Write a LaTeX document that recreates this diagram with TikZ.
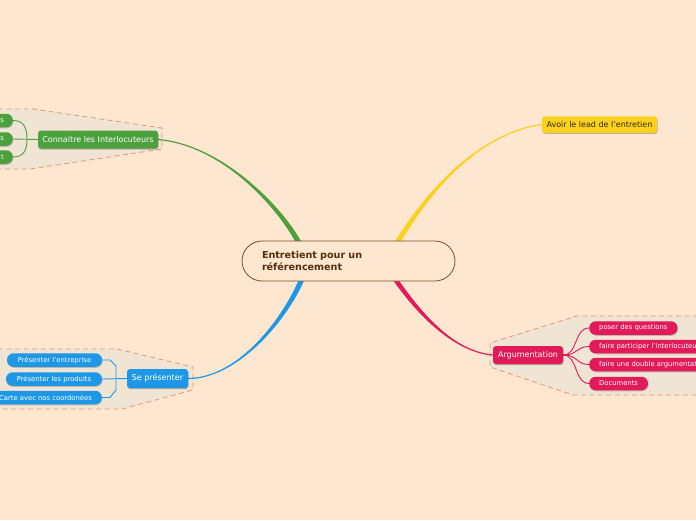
\documentclass[tikz,border=0pt]{standalone}
\usepackage{fontspec}
\setmainfont{DejaVu Sans}
\usetikzlibrary{shadows,calc}
\definecolor{bgc}{RGB}{253,231,208}
\definecolor{grpfill}{RGB}{240,228,212}
\definecolor{grpline}{RGB}{233,150,110}
\definecolor{cborder}{RGB}{120,80,40}
\definecolor{ctext}{RGB}{85,45,10}
\definecolor{cgreen}{RGB}{76,160,62}
\definecolor{cblue}{RGB}{30,152,230}
\definecolor{cred}{RGB}{226,26,90}
\definecolor{cyellow}{RGB}{250,210,30}
\definecolor{ytext}{RGB}{50,40,20}
\pgfdeclarelayer{bg}
\pgfsetlayers{bg,main}
\newcommand\taperline[7]{%
  \fill[#1] ($#2+#6$) .. controls ($#3+#6$) and ($#4+#7$) .. ($#5+#7$)
    -- ($#5-#7$) .. controls ($#4-#7$) and ($#3-#6$) .. ($#2-#6$) -- cycle;}
\begin{document}
\begin{tikzpicture}[x=1pt,y=-1pt,
  centralbox/.style={draw=cborder, line width=0.8pt, fill=bgc, rounded corners=20pt,
    minimum width=213pt, minimum height=40pt, text width=173pt, inner xsep=20pt,
    inner ysep=0pt, align=left, font=\bfseries\fontsize{9.6}{11.5}\selectfont, text=ctext},
  topicbox/.style={rounded corners=3pt, minimum height=18pt, inner sep=0pt,
    font=\fontsize{8}{9}\selectfont, text=white,
    drop shadow={shadow xshift=0.5pt, shadow yshift=-1.2pt, opacity=0.25, fill=black}},
  subbox/.style={rounded corners=6.5pt, minimum height=13.5pt, inner ysep=0pt, inner xsep=10pt,
    font=\fontsize{6.8}{8}\selectfont, text=white,
    drop shadow={shadow xshift=0.5pt, shadow yshift=-1pt, opacity=0.2, fill=black}},
  grp/.style={fill=grpfill, draw=grpline, line width=0.8pt, dash pattern=on 5pt off 3.5pt},
  subline/.style={line width=0.9pt}
]
\useasboundingbox (0,0) rectangle (696,520);

% central
\node[centralbox] (center) at (348.5,261) {Entretient pour un\\r\'ef\'erencement};

% green
\node[topicbox, fill=cgreen, minimum width=120pt] (green) at (98,139.5) {Connaitre les Interlocuteurs};
\node[subbox, fill=cgreen, anchor=east, text width=40pt, align=right, inner xsep=9pt] (g1) at (13,120.5) {s};
\node[subbox, fill=cgreen, anchor=east, text width=40pt, align=right, inner xsep=9pt] (g2) at (13,139) {s};
\node[subbox, fill=cgreen, anchor=east, text width=40pt, align=right, inner xsep=9pt] (g3) at (13,157) {t};

% yellow
\node[topicbox, fill=cyellow, text=ytext, minimum width=115pt, minimum height=16.5pt] (yellow) at (599.5,124.5) {Avoir le lead de l'entretien};

% blue
\node[topicbox, fill=cblue, minimum width=61pt, minimum height=19pt] (blue) at (157.5,378.5) {Se pr\'esenter};
\node[subbox, fill=cblue, minimum width=95pt, inner xsep=0pt] (b1) at (54.5,360) {Pr\'esenter l'entreprise};
\node[subbox, fill=cblue, minimum width=96pt, inner xsep=0pt] (b2) at (54,379) {Pr\'esenter les produits};
\node[subbox, fill=cblue, anchor=east] (b3) at (102,397.5) {Carte avec nos coordon\'ees};

% red
\node[topicbox, fill=cred, minimum width=70pt] (red) at (528,355) {Argumentation};
\node[subbox, fill=cred, anchor=west] (r1) at (589,328) {poser des questions};
\node[subbox, fill=cred, anchor=west] (r2) at (589,346.5) {faire participer l'interlocuteur};
\node[subbox, fill=cred, anchor=west] (r3) at (589,364.5) {faire une double argumentation};
\node[subbox, fill=cred, anchor=west] (r4) at (589,383.5) {Documents};

\begin{pgfonlayer}{bg}
\fill[bgc] (0,0) rectangle (696,520);
% group areas
\draw[grp] (-2,109) -- (33,109) -- (162,128) -- (162,149) -- (30,169) -- (-2,169);
\draw[grp] (-2,349) -- (117,349) -- (193,367) -- (193,390) -- (122,409) -- (-2,409);
\draw[grp] (698,316) -- (577,316) -- (490,343) -- (490,367) -- (573,395) -- (698,395);

% main connectors
\coordinate (gS) at (299,243);
\coordinate (yS) at (397,243);
\coordinate (bS) at (302,279);
\coordinate (rS) at (395,279);
\taperline{cgreen}{(gS)}{(280,207)}{(222,145)}{(green.east)}{(-3,0)}{(0,0.6)}
\taperline{cyellow}{(yS)}{(420,205)}{(470,135)}{(yellow.west)}{(-3,0)}{(0,-0.6)}
\taperline{cblue}{(bS)}{(282,325)}{(235,378.5)}{(blue.east)}{(2.8,0)}{(0,0.6)}
\taperline{cred}{(rS)}{(425,322)}{(458,352)}{(red.west)}{(2.8,0)}{(0,-0.6)}

% green sub connectors
\draw[cgreen, subline] (green.west) -- (g2.east);
\draw[cgreen, subline] (g1.east) .. controls (24,120.5) and (27,128) .. (27,139);
\draw[cgreen, subline] (g3.east) .. controls (24,157) and (27,150) .. (27,139);

% blue sub connectors
\draw[cblue, subline] (blue.west) -- (b2.east);
\draw[cblue, subline] (b1.east) -- (110,360) -- (116,366) -- (116,390) -- (110,397.5) -- (b3.east);

% red sub connectors
\draw[cred, subline] (red.east) .. controls (578,355) and (574,328) .. (r1.west);
\draw[cred, subline] (red.east) .. controls (578,355) and (576,346.5) .. (r2.west);
\draw[cred, subline] (red.east) .. controls (578,355) and (576,364.5) .. (r3.west);
\draw[cred, subline] (red.east) .. controls (578,355) and (574,383.5) .. (r4.west);
\end{pgfonlayer}
\end{tikzpicture}
\end{document}
